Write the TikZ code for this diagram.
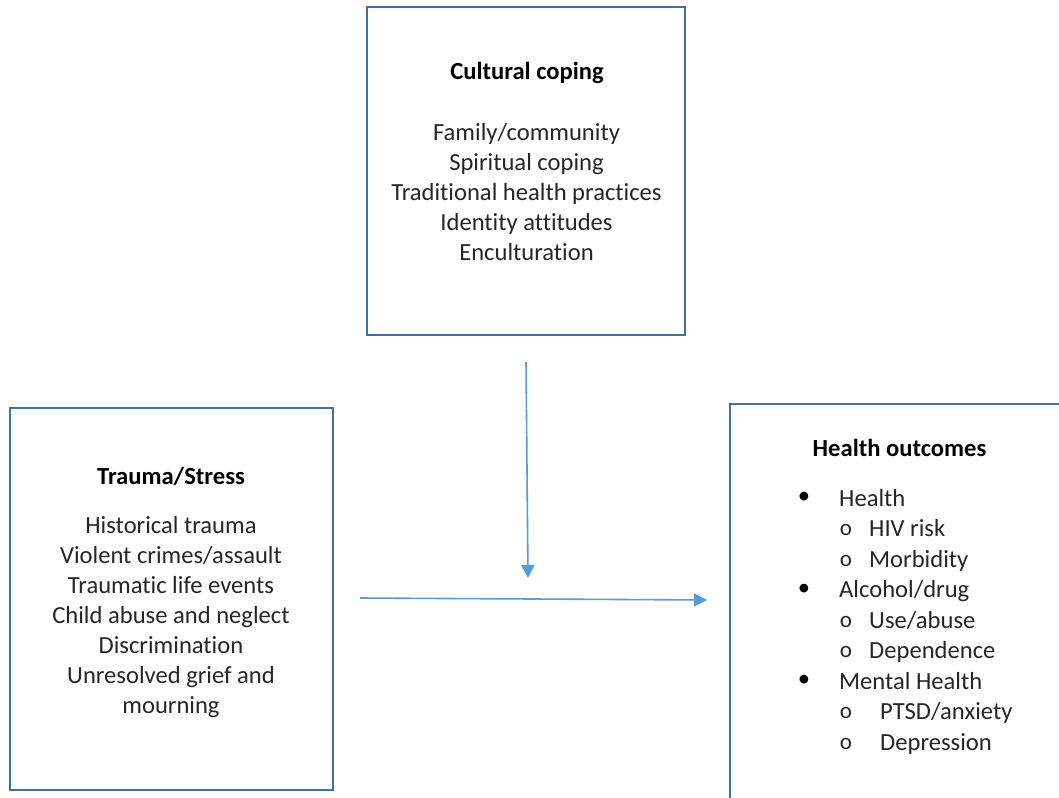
\documentclass[tikz,border=0pt]{standalone}
\usepackage{fontspec}
\setmainfont{Carlito}[Ligatures={TeX,NoCommon}]
\usetikzlibrary{arrows.meta}
\definecolor{boxblue}{HTML}{41719C}
\definecolor{arrblue}{HTML}{5B9BD5}
\begin{document}
\begin{tikzpicture}[x=1pt,y=-1pt,
  box/.style={draw=boxblue,line width=2.2pt,inner sep=0pt,outer sep=0pt},
  txt/.style={font=\fontsize{24.6}{30}\selectfont,inner sep=0pt,anchor=base,text=black!85},
  ttl/.style={font=\fontsize{24.6}{30}\selectfont\bfseries,inner sep=0pt,anchor=base,text=black},
  ltxt/.style={txt,anchor=base west},
  blt/.style={font=\fontsize{24.6}{30}\selectfont,inner sep=0pt,anchor=center},
  sblt/.style={font=\fontsize{23}{26}\selectfont,inner sep=0pt,anchor=center,text=black!85},
  arr/.style={draw=arrblue,line width=1.6pt,-{Triangle[length=13pt,width=13pt]}}]
\useasboundingbox (0,0) rectangle (1059,797);
\clip (0,0) rectangle (1059,797);
\fill[white] (0,0) rectangle (1059,797);

% boxes
\node[box,minimum width=318pt,minimum height=328pt] (cc) at (526,171) {};
\node[box,minimum width=323pt,minimum height=382pt] (ts) at (171.5,599) {};
\node[box,minimum width=345pt,minimum height=411pt] (ho) at (902.5,609.5) {};

% Cultural coping
\node[ttl] (cct) at (527,80) {Cultural coping};
\node[txt] (cc1) at (526.5,140) {Family/community};
\node[txt] (cc2) at (526.5,170) {Spiritual coping};
\node[txt] (cc3) at (526.5,200) {Traditional health practices};
\node[txt] (cc4) at (526.5,230) {Identity attitudes};
\node[txt] (cc5) at (526.5,260) {Enculturation};

% Trauma/Stress
\node[ttl] (tst) at (171,484) {Trauma/Stress};
\node[txt] (ts1) at (171,533) {Historical trauma};
\node[txt] (ts2) at (171,563) {Violent crimes/assault};
\node[txt] (ts3) at (171,593) {Traumatic life events};
\node[txt] (ts4) at (171,623) {Child abuse and neglect};
\node[txt] (ts5) at (171,653) {Discrimination};
\node[txt] (ts6) at (171,683) {Unresolved grief and};
\node[txt] (ts7) at (171,713) {mourning};

% Health outcomes
\node[ttl] (hot) at (899.5,456) {Health outcomes};
\node[blt] (b1) at (804,498) {\textbullet};
\node[ltxt] (h1) at (839,506) {Health};
\node[sblt] (s1) at (846,530) {o};
\node[ltxt] (h1a) at (869,536.5) {HIV risk};
\node[sblt] (s2) at (846,560.5) {o};
\node[ltxt] (h1b) at (869,567) {Morbidity};
\node[blt] (b2) at (804,589.5) {\textbullet};
\node[ltxt] (h2) at (839,597.5) {Alcohol/drug};
\node[sblt] (s3) at (846,621.5) {o};
\node[ltxt] (h2a) at (869,628) {Use/abuse};
\node[sblt] (s4) at (846,652) {o};
\node[ltxt] (h2b) at (869,658.5) {Dependence};
\node[blt] (b3) at (804,681) {\textbullet};
\node[ltxt] (h3) at (839,689) {Mental Health};
\node[sblt] (s5) at (846,713) {o};
\node[ltxt] (h3a) at (880,719.5) {PTSD/anxiety};
\node[sblt] (s6) at (846,743.5) {o};
\node[ltxt] (h3b) at (880,750) {Depression};

% arrows
\coordinate (vstart) at (526,362);
\coordinate (vend) at (528,578);
\coordinate (hstart) at (360,598);
\coordinate (hend) at (707,600);
\draw[arr] (vstart) -- (vend);
\draw[arr] (hstart) -- (hend);
\end{tikzpicture}
\end{document}
